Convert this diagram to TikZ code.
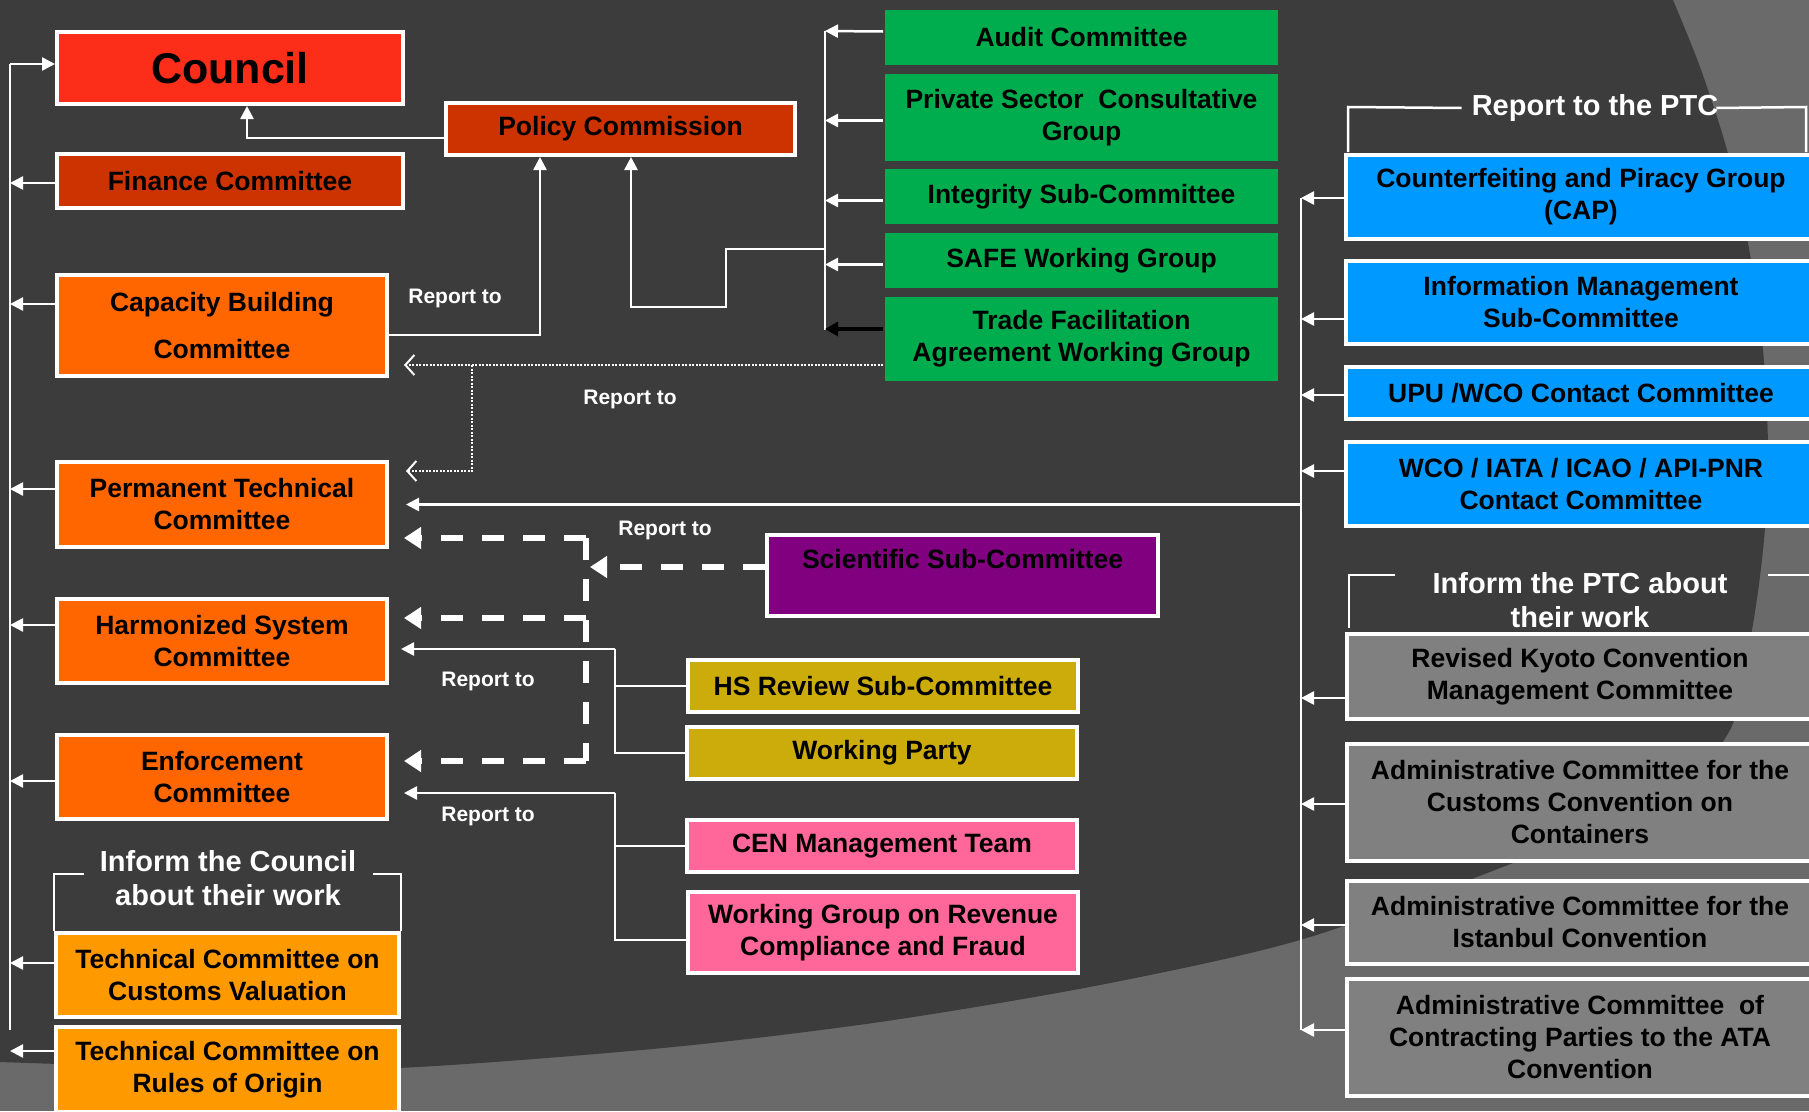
\documentclass[tikz,border=0pt]{standalone}
\usepackage{fontspec}
\setmainfont{Liberation Sans}
\usetikzlibrary{arrows.meta,calc}
\definecolor{bgdark}{RGB}{60,60,60}
\definecolor{bglight}{RGB}{106,106,106}
\definecolor{cred}{RGB}{252,46,26}
\definecolor{cbrick}{RGB}{204,51,0}
\definecolor{corange}{RGB}{255,102,0}
\definecolor{camber}{RGB}{255,153,0}
\definecolor{cgreen}{RGB}{0,173,78}
\definecolor{cblue}{RGB}{0,153,255}
\definecolor{cpurple}{RGB}{128,0,128}
\definecolor{cyellow}{RGB}{204,172,10}
\definecolor{cpink}{RGB}{255,102,153}
\definecolor{cgray}{RGB}{128,128,128}
\begin{document}
\begin{tikzpicture}[x=1pt,y=-1pt,
  box/.style={draw=white, line width=4pt, inner sep=0pt, align=center, text=black,
    font=\bfseries\fontsize{26.5}{32}\selectfont},
  gbox/.style={box, draw=none, fill=cgreen},
  conn/.style={draw=white, line width=2.5pt},
  arr/.style={conn, -{Triangle[length=13pt,width=13pt]}},
  blackarr/.style={draw=black, line width=4pt, -{Triangle[length=13pt,width=14pt]}},
  dotarr/.style={draw=white, line width=2pt, dash pattern=on 2pt off 1.5pt, -{Straight Barb[length=9pt,width=20pt,line width=2pt]}},
  dsh/.style={draw=white, line width=6pt, dash pattern=on 22pt off 19pt},
  dasharr/.style={dsh, -{Triangle[length=17pt,width=21pt]}},
  brk/.style={draw=white, line width=2.5pt},
  lbl/.style={text=white, font=\bfseries\fontsize{21}{25}\selectfont, inner sep=0pt},
  ttl/.style={text=white, align=center, inner sep=0pt, font=\bfseries\fontsize{29}{34}\selectfont}
]
\useasboundingbox (0,0) rectangle (1809,1111);
% background
\fill[bglight] (0,0) rectangle (1809,1111);
\fill[bgdark] (0,0) -- plot[smooth] coordinates {(1673,0) (1700,67) (1727,150) (1748,243) (1763,350) (1768,450) (1764,540) (1752,630) (1730,730) (1660,800) (1495,870) (1300,940) (1100,985) (880,1022) (663,1048) (398,1068) (200,1068) (0,1062)} -- cycle;

% left column
\node[box, fill=cred, minimum width=346pt, minimum height=72pt, font=\bfseries\fontsize{43}{50}\selectfont] (Council) at (230,68) {Council};
\node[box, fill=cbrick, minimum width=349pt, minimum height=52pt] (PC) at (620.5,129) {Policy Commission};
\node[box, fill=cbrick, minimum width=346pt, minimum height=54pt] (Fin) at (230,181) {Finance Committee};
\node[box, fill=corange, minimum width=330pt, minimum height=101pt] (CB) at (222,325.5) {Capacity Building\\[15pt]Committee};
\node[box, fill=corange, minimum width=330pt, minimum height=85pt] (PTC) at (222,504.5) {Permanent Technical\\Committee};
\node[box, fill=corange, minimum width=330pt, minimum height=84pt] (HS) at (222,641) {Harmonized System\\Committee};
\node[box, fill=corange, minimum width=330pt, minimum height=84pt] (Enf) at (222,777) {Enforcement\\Committee};
\node[box, fill=camber, minimum width=343pt, minimum height=84pt] (TCCV) at (227.5,975) {Technical Committee on\\Customs Valuation};
\node[box, fill=camber, minimum width=343pt, minimum height=85pt] (RoO) at (227.5,1069.5) {Technical Committee on\\Rules of Origin};

% green column
\node[gbox, minimum width=393pt, minimum height=55pt] (Aud) at (1081.5,37.5) {Audit Committee};
\node[gbox, minimum width=393pt, minimum height=87pt] (PSCG) at (1081.5,117.5) {Private Sector\ \ Consultative\\Group};
\node[gbox, minimum width=393pt, minimum height=55pt] (Int) at (1081.5,196.5) {Integrity Sub-Committee};
\node[gbox, minimum width=393pt, minimum height=55pt] (SAFE) at (1081.5,260.5) {SAFE Working Group};
\node[gbox, minimum width=393pt, minimum height=84pt] (TFA) at (1081.5,339) {Trade Facilitation\\Agreement Working Group};

% blue column
\node[box, fill=cblue, minimum width=470pt, minimum height=84pt] (CAP) at (1581,197) {Counterfeiting and Piracy Group\\(CAP)};
\node[box, fill=cblue, minimum width=470pt, minimum height=83pt] (IM) at (1581,302.5) {Information Management\\Sub-Committee};
\node[box, fill=cblue, minimum width=470pt, minimum height=52pt] (UPU) at (1581,393) {UPU /WCO Contact Committee};
\node[box, fill=cblue, minimum width=470pt, minimum height=84pt] (WCO) at (1581,484) {WCO / IATA / ICAO / API-PNR\\Contact Committee};

% gray column
\node[box, fill=cgray, minimum width=466pt, minimum height=85pt] (RKC) at (1580,676.5) {Revised Kyoto Convention\\Management Committee};
\node[box, fill=cgray, minimum width=466pt, minimum height=117pt] (ACC) at (1580,802.5) {Administrative Committee for the\\Customs Convention on\\Containers};
\node[box, fill=cgray, minimum width=466pt, minimum height=83pt] (Ist) at (1580,922.5) {Administrative Committee for the\\Istanbul Convention};
\node[box, fill=cgray, minimum width=466pt, minimum height=117pt] (ATA) at (1580,1037.5) {Administrative Committee\ \ of\\Contracting Parties to the ATA\\Convention};

% middle
\node[box, fill=cpurple, minimum width=391pt, minimum height=81pt] (Sci) at (962.5,575.5) {Scientific Sub-Committee\\[-9pt]\strut};
\node[box, fill=cyellow, minimum width=390pt, minimum height=52pt] (HSR) at (883,686) {HS Review Sub-Committee};
\node[box, fill=cyellow, minimum width=390pt, minimum height=52pt] (WP) at (882,753) {Working Party};
\node[box, fill=cpink, minimum width=390pt, minimum height=52pt] (CEN) at (882,846) {CEN Management Team};
\node[box, fill=cpink, minimum width=390pt, minimum height=81pt] (WGR) at (883,932.5) {Working Group on Revenue\\Compliance and Fraud};

% labels
\node[lbl] (r1) at (455,298) {Report to};
\node[lbl] (r2) at (630,399) {Report to};
\node[lbl] (r3) at (665,530) {Report to};
\node[lbl] (r4) at (488,681) {Report to};
\node[lbl] (r5) at (488,816) {Report to};
\node[ttl] (tPTC) at (1595,108) {Report to the PTC};
\node[ttl] (tIPTC) at (1580,600) {Inform the PTC about\\their work};
\node[ttl] (tIC) at (228,878) {Inform the Council\\about their work};

% brackets
\draw[brk] (84,874) -| (TCCV.north west);
\draw[brk] (373,874) -| (TCCV.north east);
\draw[brk] (tPTC.west) ++(-10,0) -- (1348,107) -- (1348,152);
\draw[brk] (tPTC.east) ++(-2,0) -- (1806,107) -- (1806,152);
\draw[brk] (1395,575) -| (1349,628);
\draw[brk] (1768,575) -- (1812,575);

% left bus
\coordinate (LT) at (10,64);
\coordinate (LB) at (10,1030);
\coordinate (RT) at (404,0);
\draw[conn] (LT) -- (LB);
\draw[arr] (LT) -- (Council.west |- LT);
\draw[arr] ([yshift=-2pt]Fin.west) -- ([yshift=-2pt]Fin.west -| LT);
\draw[arr] ([yshift=21.5pt]CB.west) -- ([yshift=21.5pt]CB.west -| LT);
\draw[arr] ([yshift=15.5pt]PTC.west) -- ([yshift=15.5pt]PTC.west -| LT);
\draw[arr] ([yshift=16pt]HS.west) -- ([yshift=16pt]HS.west -| LT);
\draw[arr] ([yshift=-4pt]Enf.west) -- ([yshift=-4pt]Enf.west -| LT);
\draw[arr] ([yshift=12pt]TCCV.west) -- ([yshift=12pt]TCCV.west -| LT);
\draw[arr] ([yshift=18.5pt]RoO.west) -- ([yshift=18.5pt]RoO.west -| LT);

% to council / policy commission
\draw[arr] ([yshift=-9pt]PC.west) -| ([xshift=17pt]Council.south);
\draw[arr] ([yshift=-9.5pt]CB.east) -| ([xshift=-80.5pt]PC.south);

% green bus
\coordinate (GT) at (825,31);
\coordinate (GB) at (825,330);
\coordinate (GJ) at (825,249);
\draw[conn] (GT) -- (GB);
\draw[arr] ([yshift=6pt]Aud.west) -- (GT);
\draw[arr] ([yshift=-3pt]PSCG.west) -- ([yshift=-3pt]PSCG.west -| GT);
\draw[arr] ([yshift=-4pt]Int.west) -- ([yshift=-4pt]Int.west -| GT);
\draw[arr] ([yshift=-4pt]SAFE.west) -- ([yshift=-4pt]SAFE.west -| GT);
\draw[blackarr] ([yshift=10pt]TFA.west) -- ([yshift=10pt]TFA.west -| GT);
\draw[arr] (GJ) -- ++(-99,0) -- ++(0,58) -| ([xshift=10.5pt]PC.south);

% dotted report lines
\coordinate (DJ) at (472,365);
\draw[dotarr] ([yshift=-26pt]TFA.west) -- ([yshift=-26pt]TFA.west -| RT);
\draw[dotarr] (DJ) |- ([xshift=17pt,yshift=33.5pt]PTC.east);

% blue bus
\coordinate (BT) at (1301,198);
\coordinate (BB) at (1301,1030);
\draw[conn] (BT) -- (BB);
\draw[arr] ([yshift=-1pt]CAP.west) -- ([yshift=-1pt]CAP.west -| BT);
\draw[arr] ([yshift=-16.5pt]IM.west) -- ([yshift=-16.5pt]IM.west -| BT);
\draw[arr] ([yshift=-2pt]UPU.west) -- ([yshift=-2pt]UPU.west -| BT);
\draw[arr] ([yshift=13pt]WCO.west) -- ([yshift=13pt]WCO.west -| BT);
\draw[arr] ([yshift=-21.5pt]RKC.west) -- ([yshift=-21.5pt]RKC.west -| BT);
\draw[arr] ([yshift=-1.5pt]ACC.west) -- ([yshift=-1.5pt]ACC.west -| BT);
\draw[arr] ([yshift=-2.5pt]Ist.west) -- ([yshift=-2.5pt]Ist.west -| BT);
\draw[arr] ([yshift=7.5pt]ATA.west) -- ([yshift=7.5pt]ATA.west -| BT);
\draw[arr] (BT |- PTC.east) -- ([xshift=17pt]PTC.east);

% dashed (scientific)
\coordinate (V1) at (586,538);
\coordinate (V2) at (586,761);
\coordinate (V3) at (586,618);
\coordinate (VX) at (590,0);
\draw[dsh] (V1) -- (V2);
\draw[dasharr] (V1) -- (V1 -| RT);
\draw[dasharr] (V3) -- (V3 -| RT);
\draw[dasharr] (V2) -- (V2 -| RT);
\draw[dasharr] ([yshift=8.5pt]Sci.west) -- ([yshift=8.5pt]Sci.west -| VX);

% HS and Enforcement solid
\coordinate (HJ) at (615,649);
\coordinate (EJ) at (615,793);
\draw[conn] (WP.west) -| (HJ);
\draw[conn] (HSR.west) -- (HSR.west -| HJ);
\draw[arr] (HJ) -- ([xshift=-3pt]HJ -| RT);
\draw[conn] ([yshift=-7.5pt]WGR.west) -| (EJ);
\draw[conn] (CEN.west) -- (CEN.west -| EJ);
\draw[arr] (EJ) -- (EJ -| RT);
\end{tikzpicture}
\end{document}
